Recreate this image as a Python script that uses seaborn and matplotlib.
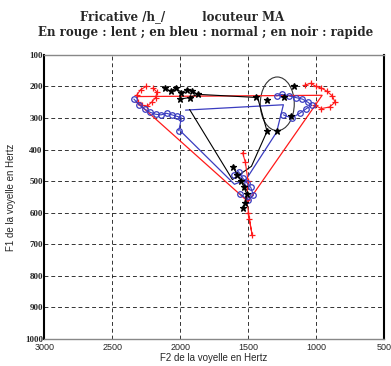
import numpy as np
import pandas as pd
import matplotlib
matplotlib.use("Agg")
import matplotlib.pyplot as plt
from matplotlib.patches import Ellipse
import seaborn as sns

# ---------------- data (Hz) ----------------
# slow (red, '+')
red_i_F2 = [2250, 2290, 2320, 2310, 2280, 2240, 2210, 2180, 2170, 2200]
red_i_F1 = [200, 210, 228, 248, 260, 262, 250, 235, 218, 205]
red_u_F2 = [1080, 1040, 1000, 960, 920, 880, 860, 900, 960, 1010]
red_u_F1 = [195, 190, 200, 205, 215, 230, 250, 265, 270, 260]
red_a_F2 = [1540, 1520, 1500, 1510, 1490, 1470, 1500]
red_a_F1 = [410, 440, 500, 560, 620, 670, 600]
red_tri_F2 = [2310, 955, 1500, 2310]
red_tri_F1 = [232, 228, 565, 253]

# normal (blue, 'o')
blue_i_F2 = [2340, 2300, 2260, 2220, 2180, 2140, 2100, 2060, 2020, 1990, 2010]
blue_i_F1 = [240, 258, 272, 282, 288, 290, 285, 290, 295, 300, 340]
blue_u_F2 = [1290, 1250, 1200, 1150, 1100, 1060, 1030, 1070, 1120, 1180, 1240]
blue_u_F1 = [230, 225, 230, 235, 240, 250, 260, 270, 285, 300, 290]
blue_a_F2 = [1600, 1570, 1540, 1510, 1480, 1460, 1500, 1560]
blue_a_F1 = [480, 470, 490, 505, 520, 545, 560, 540]
blue_tri_F2 = [1960, 1240, 1290, 1515, 1600, 2000]
blue_tri_F1 = [275, 258, 345, 495, 510, 340]

# fast (black, '*')
black_i_F2 = [2110, 2070, 2030, 1990, 1950, 1910, 1870, 1930, 2000]
black_i_F1 = [205, 215, 205, 220, 210, 215, 225, 235, 240]
black_u_F2 = [1438, 1362, 1159, 1185, 1362, 1286, 1235]
black_u_F1 = [232, 242, 200, 295, 342, 342, 232]
black_a_F2 = [1610, 1580, 1550, 1530, 1510, 1520, 1540]
black_a_F1 = [455, 480, 500, 520, 540, 570, 585]
black_tri_F2 = [1870, 1430, 1360, 1475, 1615, 1930]
black_tri_F1 = [225, 235, 342, 453, 495, 273]
black_u_ellipse = dict(F2=1285, F1=255, dF2=250, dF1=170)

x_ticks = [3000, 2500, 2000, 1500, 1000, 500]
y_ticks = [100, 200, 300, 400, 500, 600, 700, 800, 900, 1000]

sns.set_style("white")
plt.rcParams['font.family'] = ['DejaVu Sans']

fig = plt.figure(figsize=(3.91, 3.66), dpi=100)
ax = fig.add_axes([0.113, 0.074, 0.869, 0.776])

RED = "#ff1a1a"
BLUE = "#3a3cc0"
BLACK = "#000000"

def draw(F2, F1, color, marker=None, ms=5, lw=0.8, mfc=None):
    df = pd.DataFrame({"F2": F2, "F1": F1})
    kw = {}
    if marker is not None:
        kw = dict(marker=marker, markersize=ms, markeredgewidth=0.9,
                  markeredgecolor=color,
                  markerfacecolor=(color if mfc is None else mfc))
    sns.lineplot(data=df, x="F2", y="F1", sort=False, estimator=None,
                 color=color, linewidth=lw, ax=ax, **kw)

# triangles
draw(red_tri_F2, red_tri_F1, RED, lw=0.9)
draw(blue_tri_F2, blue_tri_F1, BLUE, lw=0.9)
draw(black_tri_F2, black_tri_F1, BLACK, lw=0.8)

# ellipse for black /u/
e = Ellipse((black_u_ellipse["F2"], black_u_ellipse["F1"]),
            black_u_ellipse["dF2"], black_u_ellipse["dF1"],
            fill=False, edgecolor="#333333", linewidth=0.8)
ax.add_patch(e)

# clusters
draw(red_i_F2, red_i_F1, RED, "+", 5)
draw(red_u_F2, red_u_F1, RED, "+", 5)
draw(red_a_F2, red_a_F1, RED, "+", 5)
draw(blue_i_F2, blue_i_F1, BLUE, "o", 4, mfc="none")
draw(blue_u_F2, blue_u_F1, BLUE, "o", 4, mfc="none")
draw(blue_a_F2, blue_a_F1, BLUE, "o", 4, mfc="none")
draw(black_i_F2, black_i_F1, BLACK, "*", 4.5)
draw(black_u_F2, black_u_F1, BLACK, "*", 4.5, lw=0)
draw(black_a_F2, black_a_F1, BLACK, "*", 4.5)

ax.set_xlim(3000, 500)
ax.set_ylim(1000, 100)
ax.set_xticks(x_ticks)
ax.set_yticks(y_ticks)
ax.set_xticklabels([str(v) for v in x_ticks], fontsize=6.5,
                   family="Liberation Sans")
ax.set_yticklabels([str(v) for v in y_ticks], fontsize=6.5,
                   family="Liberation Serif", fontweight="bold")
ax.tick_params(axis="x", length=2, pad=3, direction="in")
ax.tick_params(axis="y", length=2, pad=1, direction="in")
ax.grid(True, color="black", linestyle=(0, (4, 3)), linewidth=0.7, alpha=0.8)
ax.set_axisbelow(True)

for s in ["left", "right"]:
    ax.spines[s].set_color("black")
    ax.spines[s].set_linewidth(1.5)
for s in ["top", "bottom"]:
    ax.spines[s].set_color("#888888")
    ax.spines[s].set_linewidth(1.0)

ax.set_xlabel("F2 de la voyelle en Hertz", fontsize=7, family="Liberation Sans",
              labelpad=1)
ax.set_ylabel("F1 de la voyelle en Hertz", fontsize=7, family="Liberation Sans",
              labelpad=6)

fig.text(0.465, 0.955, "Fricative /h_/         locuteur MA", ha="center",
         va="center", fontsize=8.5, family="DejaVu Serif", fontweight="bold")
fig.text(0.527, 0.91, "En rouge : lent ; en bleu : normal ; en noir : rapide",
         ha="center", va="center", fontsize=8.5, family="DejaVu Serif",
         fontweight="bold")

fig.savefig("out.png", dpi=100)
